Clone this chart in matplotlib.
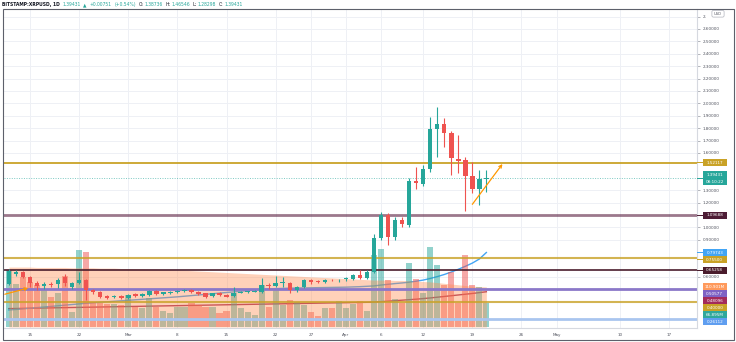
import matplotlib
matplotlib.use("Agg")
import matplotlib.pyplot as plt
import matplotlib.dates as mdates
from matplotlib.patches import Rectangle, FancyBboxPatch
from matplotlib.transforms import IdentityTransform
import pandas as pd

plt.rcParams['font.family'] = ['DejaVu Sans']

# ---------------- data ----------------
start_date = "2021-02-12"
opens = [0.540, 0.622, 0.643, 0.600, 0.555, 0.527, 0.544, 0.540, 0.603, 0.520, 0.554, 0.578,
         0.493, 0.479, 0.447, 0.437, 0.450, 0.432, 0.460, 0.447, 0.456, 0.490, 0.466, 0.472,
         0.479, 0.484, 0.495, 0.480, 0.468, 0.450, 0.468, 0.455, 0.447, 0.474, 0.478, 0.482,
         0.478, 0.535, 0.530, 0.555, 0.550, 0.495, 0.520, 0.576, 0.566, 0.560, 0.578, 0.572,
         0.580, 0.582, 0.616, 0.590, 0.643, 0.918, 1.100, 0.925, 1.060, 1.020, 1.374, 1.350,
         1.470, 1.794, 1.834, 1.760, 1.552, 1.544, 1.415, 1.310, 1.38736]
highs = [0.662, 0.655, 0.652, 0.610, 0.565, 0.557, 0.556, 0.590, 0.625, 0.562, 0.640, 0.585,
         0.505, 0.485, 0.455, 0.458, 0.457, 0.462, 0.468, 0.470, 0.497, 0.497, 0.482, 0.484,
         0.494, 0.500, 0.500, 0.488, 0.474, 0.474, 0.476, 0.462, 0.520, 0.488, 0.490, 0.492,
         0.590, 0.552, 0.608, 0.600, 0.558, 0.525, 0.582, 0.585, 0.572, 0.585, 0.584, 0.585,
         0.596, 0.622, 0.656, 0.660, 0.950, 1.127, 1.120, 1.080, 1.080, 1.400, 1.487, 1.503,
         1.890, 1.970, 1.880, 1.780, 1.745, 1.568, 1.527, 1.463, 1.46546]
lows = [0.532, 0.608, 0.590, 0.520, 0.495, 0.502, 0.522, 0.512, 0.530, 0.505, 0.540, 0.415,
        0.465, 0.430, 0.420, 0.428, 0.420, 0.425, 0.440, 0.440, 0.450, 0.455, 0.458, 0.465,
        0.472, 0.475, 0.470, 0.455, 0.430, 0.442, 0.446, 0.435, 0.440, 0.468, 0.472, 0.476,
        0.470, 0.505, 0.522, 0.520, 0.470, 0.480, 0.515, 0.545, 0.550, 0.552, 0.565, 0.560,
        0.570, 0.575, 0.580, 0.585, 0.630, 0.900, 0.858, 0.900, 1.000, 1.000, 1.310, 1.330,
        1.450, 1.568, 1.648, 1.420, 1.440, 1.132, 1.277, 1.180, 1.28298]
closes = [0.650, 0.643, 0.600, 0.555, 0.527, 0.544, 0.539, 0.573, 0.550, 0.554, 0.578, 0.493,
          0.479, 0.442, 0.430, 0.450, 0.432, 0.456, 0.447, 0.460, 0.490, 0.465, 0.476, 0.479,
          0.488, 0.496, 0.476, 0.462, 0.441, 0.468, 0.452, 0.440, 0.474, 0.482, 0.485, 0.487,
          0.535, 0.525, 0.555, 0.562, 0.495, 0.520, 0.576, 0.557, 0.560, 0.578, 0.572, 0.578,
          0.590, 0.616, 0.590, 0.643, 0.918, 1.100, 0.920, 1.060, 1.025, 1.374, 1.358, 1.470,
          1.794, 1.834, 1.760, 1.560, 1.535, 1.415, 1.310, 1.390, 1.39431]
volumes_m = [158, 120, 138, 125, 116, 103, 83, 94, 141, 42, 213, 208,
             70, 66, 63, 63, 61, 89, 56, 52, 80, 56, 44, 38,
             56, 56, 66, 61, 56, 56, 40, 44, 93, 53, 42, 33,
             116, 56, 102, 61, 75, 70, 61, 42, 31, 52, 52, 72,
             52, 63, 72, 44, 200, 215, 130, 77, 67, 178, 132, 95,
             222, 172, 116, 152, 66, 199, 116, 110, 66.895]
vol_ma_m = [166, 166, 166, 166, 165, 165, 165, 165, 165, 164, 164, 164,
            164, 163, 163, 163, 162, 162, 161, 161, 160, 160, 159, 159,
            158, 157, 156, 155, 154, 153, 152, 151, 150, 149, 148, 147,
            146, 145, 144, 143, 142, 141, 140, 139, 138, 137, 136, 135,
            134, 133, 132, 131, 130, 130, 130, 129, 129, 128, 127, 126,
            125, 123, 121, 119, 117, 115, 113, 112, 110.901]
ma50 = [0.334, 0.338, 0.343, 0.348, 0.353, 0.358, 0.363, 0.368, 0.373, 0.378, 0.383, 0.388,
        0.392, 0.396, 0.400, 0.404, 0.408, 0.412, 0.416, 0.420, 0.424, 0.428, 0.432, 0.436,
        0.440, 0.445, 0.450, 0.455, 0.460, 0.465, 0.470, 0.475, 0.480, 0.485, 0.490, 0.495,
        0.500, 0.503, 0.506, 0.508, 0.510, 0.511, 0.512, 0.513, 0.514, 0.515, 0.516, 0.517,
        0.518, 0.520, 0.522, 0.525, 0.528, 0.535, 0.541, 0.547, 0.552, 0.558, 0.566, 0.575,
        0.588, 0.603, 0.620, 0.640, 0.662, 0.686, 0.712, 0.745, 0.79743]
ma200 = [0.345, 0.346, 0.347, 0.348, 0.349, 0.350, 0.351, 0.352, 0.353, 0.354, 0.355, 0.356,
         0.357, 0.358, 0.359, 0.360, 0.361, 0.362, 0.363, 0.364, 0.365, 0.366, 0.367, 0.368,
         0.369, 0.370, 0.371, 0.372, 0.373, 0.374, 0.375, 0.376, 0.377, 0.378, 0.379, 0.380,
         0.381, 0.382, 0.383, 0.384, 0.385, 0.386, 0.387, 0.388, 0.389, 0.390, 0.391, 0.392,
         0.393, 0.394, 0.395, 0.396, 0.398, 0.401, 0.405, 0.409, 0.413, 0.417, 0.421, 0.426,
         0.431, 0.437, 0.443, 0.449, 0.455, 0.461, 0.467, 0.474, 0.48096]

level_values = [1.52117, 1.09688, 0.75500, 0.65258, 0.50577, 0.40000, 0.26112]
level_colors = ['#c9a227', '#5a1f3f', '#c9a227', '#4a1c2c', '#8b78c9', '#c9a227', '#a9c5ef']
level_label_colors = ['#c9a227', '#4e1d36', '#c9a227', '#4a1c2c', '#7e62c4', '#c9a227', '#5f9ef0']

last_price = 1.39431
countdown = "08:10:22"

arrow_main_dates = ["2021-04-19 00:00", "2021-04-23 07:00"]
arrow_main_prices = [1.186, 1.511]
arrow_small_dates = ["2021-02-11 10:00", "2021-02-14 18:00"]
arrow_small_prices = [0.461, 0.511]

tick_dates = ["2021-02-15", "2021-02-22", "2021-03-01", "2021-03-08", "2021-03-15",
              "2021-03-22", "2021-03-27", "2021-04-01", "2021-04-06", "2021-04-12",
              "2021-04-19", "2021-04-26", "2021-05-01", "2021-05-10", "2021-05-17"]
tick_labels = ["15", "22", "Mar", "8", "15", "22", "27", "Apr", "6", "12", "19", "26",
               "May", "10", "17"]
price_ticks = [0.4, 0.5, 0.6, 0.7, 0.8, 0.9, 1.0, 1.1, 1.2, 1.3, 1.4, 1.5, 1.6, 1.7,
               1.8, 1.9, 2.0, 2.1, 2.2, 2.3, 2.4, 2.5, 2.6, 2.7]

header_symbol = "BITSTAMP:XRPUSD, 1D"
header_change = ["1.39431", "\u25b2", "+0.00751", "(+0.54%)"]
header_ohlc = [("O:", "1.38736"), ("H:", "1.46546"), ("L:", "1.28298"), ("C:", "1.39431")]

# ---------------- styling / layout ----------------
UP = '#26a69a'
DOWN = '#ef5350'
W, H = 736, 342
fig = plt.figure(figsize=(W / 100, H / 100), dpi=100)
fig.patch.set_facecolor('white')

L_PX, R_PX, T_PX, B_PX = 4, 697, 9, 328
rect = [L_PX / W, (H - B_PX) / H, (R_PX - L_PX) / W, (B_PX - T_PX) / H]
ax = fig.add_axes(rect)
volax = fig.add_axes(rect, sharex=ax)
volax.set_visible(False)

dates = pd.date_range(start_date, periods=len(opens), freq='D')
xs = mdates.date2num(dates)
d0 = mdates.date2num(pd.Timestamp("2021-02-15"))
ax.set_xlim(d0 - 3.70, d0 + 95.0)
ax.set_ylim(0.1887, 2.761)
volax.set_ylim(-2.77, 880.9)
ax.autoscale(False)

# grid
ax.set_axisbelow(True)
ax.grid(True, color='#eef0f5', lw=0.7, zorder=0)

# MA lines (under volume)
ax.plot(xs, ma200, color='#a8325a', lw=1.0, zorder=1.1)
ax.plot(xs, ma50, color='#42a5f5', lw=1.0, zorder=1.1)

# volume bars
vcols = [UP if c >= o else DOWN for o, c in zip(opens, closes)]
ax.bar(xs, volumes_m, width=0.88, bottom=0, color=vcols, alpha=0.5, lw=0,
       transform=volax.transData, zorder=1.2)
# volume MA area
ax.fill_between(xs, 0, vol_ma_m, color='#ff8c50', alpha=0.4, lw=0,
                transform=volax.transData, zorder=1.5)

# horizontal levels
level_widths = [1.3, 2.0, 1.5, 1.2, 2.0, 1.5, 2.0]
level_alphas = [1.0, 0.6, 0.8, 1.0, 1.0, 0.8, 1.0]
for v, c, lw, a in zip(level_values, level_colors, level_widths, level_alphas):
    ax.axhline(v, color=c, lw=lw, alpha=a, zorder=2)
ax.axhline(last_price, color=UP, lw=0.7, ls=(0, (1, 1.5)), alpha=0.6, zorder=2)

# candles
for x, o, h, l, c in zip(xs, opens, highs, lows, closes):
    col = UP if c >= o else DOWN
    ax.vlines(x, l, h, color=col, lw=0.8, zorder=3)
    bot = min(o, c)
    ht = max(abs(c - o), 0.004)
    ax.bar(x, ht, bottom=bot, width=0.64, color=col, lw=0, zorder=3.1)

# arrows
for ds, ps in [(arrow_main_dates, arrow_main_prices), (arrow_small_dates, arrow_small_prices)]:
    xa = mdates.date2num(pd.to_datetime(ds))
    ax.annotate('', xy=(xa[1], ps[1]), xytext=(xa[0], ps[0]),
                arrowprops=dict(arrowstyle='->', color='#ff9800', lw=0.9,
                                mutation_scale=5, shrinkA=0, shrinkB=0), zorder=4)

# axes spines and ticks
for s in ['left', 'top']:
    ax.spines[s].set_visible(False)
ax.spines['right'].set_color('#d6d9e0')
ax.spines['bottom'].set_color('#d6d9e0')
ax.spines['right'].set_linewidth(0.8)
ax.spines['bottom'].set_linewidth(0.8)
ax.yaxis.tick_right()
ax.set_xticks(mdates.date2num(pd.to_datetime(tick_dates)))
ax.set_xticklabels(tick_labels)
ax.tick_params(axis='x', labelsize=3.0, length=0, labelcolor='#50535e', pad=3.5)

# ---------------- right-side labels ----------------
def price_px(v):
    return ax.transData.transform((xs[0], v))[1]

def vol_px(v):
    return volax.transData.transform((xs[0], v))[1]

labels = [
    (price_px(level_values[0]), [f"{level_values[0]:.5f}"], level_label_colors[0]),
    (price_px(last_price), [f"{last_price:.5f}", countdown], UP),
    (price_px(level_values[1]), [f"{level_values[1]:.5f}"], level_label_colors[1]),
    (price_px(ma50[-1]), [f"{ma50[-1]:.5f}"], '#42a5f5'),
    (price_px(level_values[2]), [f"{level_values[2]:.5f}"], level_label_colors[2]),
    (price_px(level_values[3]), [f"{level_values[3]:.5f}"], level_label_colors[3]),
    (vol_px(vol_ma_m[-1]), [f"{vol_ma_m[-1]:.3f}M"], '#ff9a5c'),
    (price_px(level_values[4]), [f"{level_values[4]:.5f}"], level_label_colors[4]),
    (price_px(ma200[-1]), [f"{ma200[-1]:.5f}"], '#a22b5b'),
    (price_px(level_values[5]), [f"{level_values[5]:.5f}"], level_label_colors[5]),
    (vol_px(volumes_m[-1]), [f"{volumes_m[-1]:.3f}M"], '#2fa89c'),
    (price_px(level_values[6]), [f"{level_values[6]:.5f}"], level_label_colors[6]),
]
labels.sort(key=lambda t: -t[0])  # top to bottom
LH = 7.0
placed = []
prev_c, prev_h = None, None
for y, lines, col in labels:
    h = LH * len(lines)
    if prev_c is not None:
        y = min(y, prev_c - (prev_h + h) / 2)
    placed.append((y, lines, col, h))
    prev_c, prev_h = y, h

# price scale tick labels, skipping those hidden behind a coloured label
usd_y0, usd_y1 = H - 17.5, H - 10.0
visible_ticks = []
for v in price_ticks:
    py = price_px(v)
    hidden = any(abs(py - y) < h / 2 + 2.5 for y, _, _, h in placed)
    if hidden:
        continue
    visible_ticks.append(v)
ax.set_yticks(visible_ticks)
ax.set_yticklabels([("2." if abs(v - 2.7) < 1e-9 else f"{v:.5f}") for v in visible_ticks])
ax.tick_params(axis='y', labelsize=3.0, length=2.0, width=0.5, color='#9598a1',
               labelcolor='#50535e', pad=2.2)

BX0, BW = 702.5, 24.5
for y, lines, col, h in placed:
    fig.add_artist(Rectangle((BX0, y - h / 2), BW, h, transform=IdentityTransform(),
                             facecolor=col, edgecolor='none', zorder=10))
    fig.add_artist(Rectangle((R_PX, y - 0.4), BX0 - R_PX, 0.8, transform=IdentityTransform(),
                             facecolor=col, edgecolor='none', zorder=10))
    n = len(lines)
    for i, s in enumerate(lines):
        ty = y + (n - 1) * LH / 2 - i * LH
        fig.text(BX0 + BW / 2, ty, s, transform=IdentityTransform(), ha='center',
                 va='center', fontsize=3.0, color='white', zorder=11)

# USD badge
fig.add_artist(FancyBboxPatch((712.5, H - 16.5), 11, 5.5, boxstyle='round,pad=0.6,rounding_size=1.5',
                              transform=IdentityTransform(), facecolor='white',
                              edgecolor='#b2b5be', lw=0.5, zorder=10))
fig.text(718, H - 13.7, "USD", transform=IdentityTransform(), ha='center', va='center',
         fontsize=2.6, color='#50535e', zorder=11)

# outer frame
fig.add_artist(Rectangle((2.5, H - 339.5), 731.5, 330.5, transform=IdentityTransform(),
                         facecolor='none', edgecolor='#5d606b', lw=0.8, zorder=12))

# ---------------- header ----------------
renderer = fig.canvas.get_renderer()
pieces = [(header_symbol, '#131722', 'bold')]
pieces += [(s, UP, 'normal') for s in header_change]
for k, v in header_ohlc:
    pieces.append((k, '#131722', 'normal'))
    pieces.append((v, UP, 'normal'))

def layout(fs, draw=False):
    x = 2.0
    for i, (s, c, wgt) in enumerate(pieces):
        t = fig.text(x, H - 4.6, s, transform=IdentityTransform(), fontsize=fs, color=c,
                     fontweight=wgt, ha='left', va='center', zorder=11)
        w = t.get_window_extent(renderer).width
        if not draw:
            t.remove()
        gap = 1.2 if s.endswith(':') else 2.6
        x += w + gap
    return x

total = layout(3.0)
fs = 3.0 * (246.0 - 2.0) / (total - 2.0)
layout(fs, draw=True)

fig.savefig("out.png", dpi=100, facecolor='white')
